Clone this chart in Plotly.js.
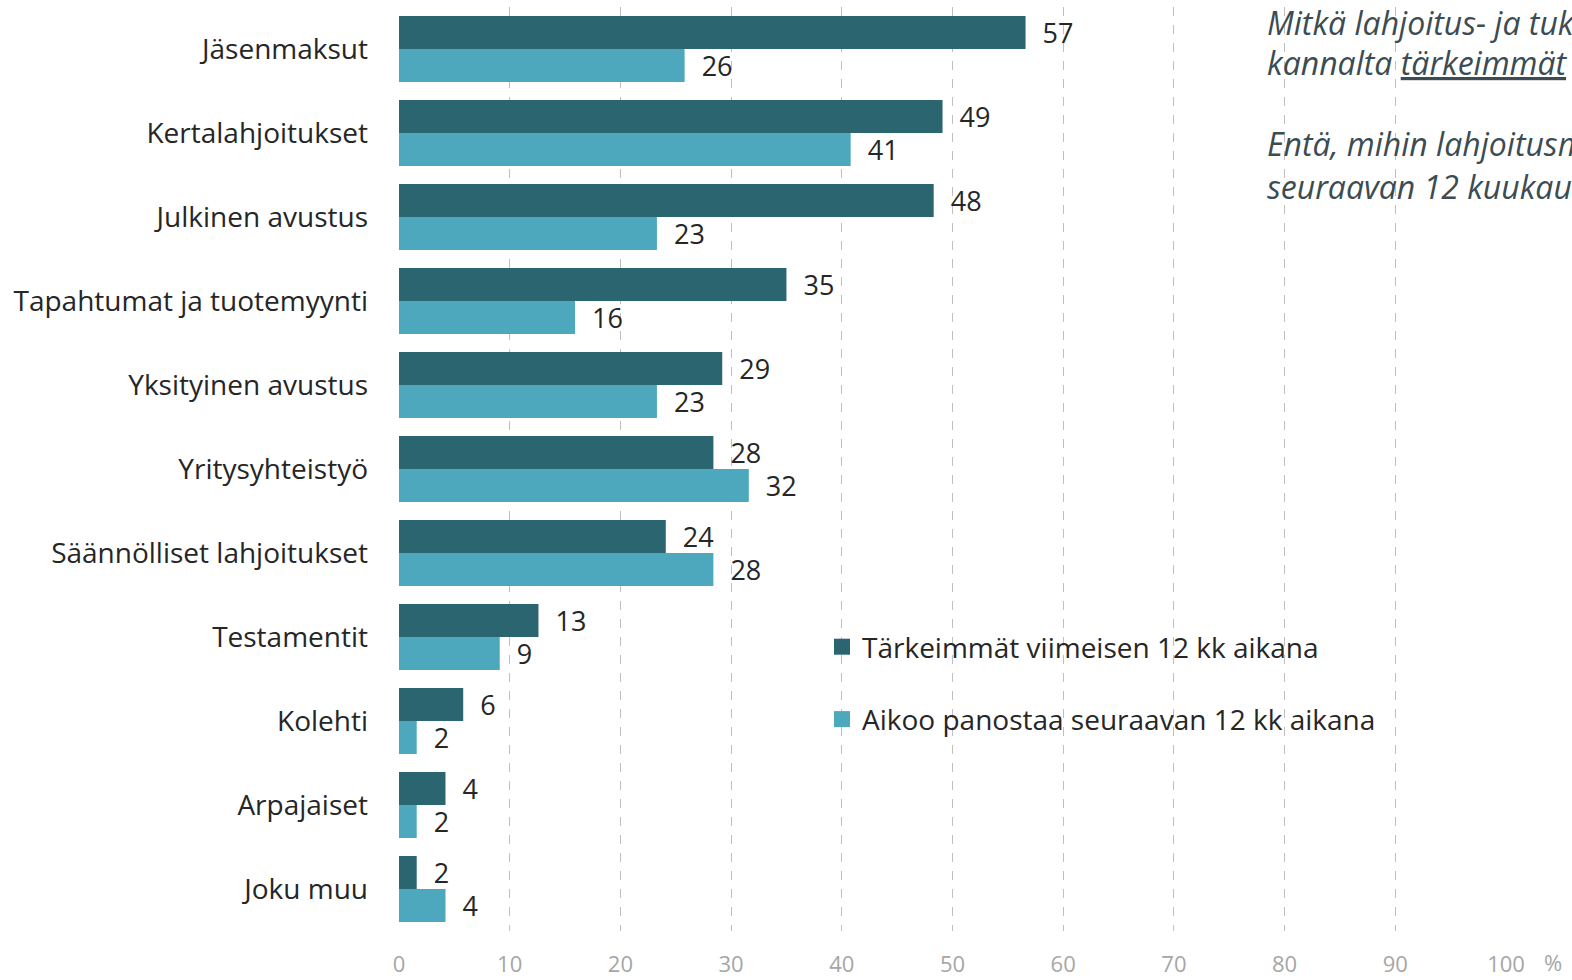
<!DOCTYPE html>
<html>
<head>
<meta charset="utf-8">
<script src="https://cdn.plot.ly/plotly-3.0.1.min.js"></script>
<style>html,body{margin:0;padding:0;background:#fff;}#chart{width:1572px;height:980px;}</style>
</head>
<body>
<div id="chart"></div>
<script>
var categories = ["Jäsenmaksut","Kertalahjoitukset","Julkinen avustus","Tapahtumat ja tuotemyynti","Yksityinen avustus","Yritysyhteistyö","Säännölliset lahjoitukset","Testamentit","Kolehti","Arpajaiset","Joku muu"];
var seriesNames = ["Tärkeimmät viimeisen 12 kk aikana","Aikoo panostaa seuraavan 12 kk aikana"];
var lastYear = [56.6, 49.1, 48.3, 35.0, 29.2, 28.4, 24.1, 12.6, 5.8, 4.2, 1.6];
var nextYear = [25.8, 40.8, 23.3, 15.9, 23.3, 31.6, 28.4, 9.1, 1.6, 1.6, 4.2];
var xTicks = [0,10,20,30,40,50,60,70,80,90,100];
var titleLines = ["Mitkä lahjoitus- ja tukimuodot ovat olleet organisaationne",
  "kannalta <u>tärkeimmät</u> viimeisen 12 kuukauden aikana?",
  "Entä, mihin lahjoitusmuotoihin aiotte panostaa",
  "seuraavan 12 kuukauden aikana?"];

var W = 1572, H = 980;
var mL = 399, mR = 66, mT = 7, mB = 49;
var pw = W - mL - mR, ph = H - mT - mB;
function px2x(p){ return (p - mL) / pw; }
function px2y(p){ return (H - mB - p) / ph; }

var FONT = "Open Sans, Liberation Sans, sans-serif";
var NB = "\u00a0\u00a0";
var DARK = '#2B6570', LIGHT = '#4DA8BD';

var traces = [
  {type:'bar', orientation:'h', name:seriesNames[0], y:categories, x:lastYear,
   marker:{color:DARK}, text:lastYear.map(function(v){return NB+Math.round(v);}),
   textposition:'outside', constraintext:'none', cliponaxis:false, showlegend:false,
   textfont:{family:FONT, size:27, color:'#262626'}, hoverinfo:'x+y'},
  {type:'bar', orientation:'h', name:seriesNames[1], y:categories, x:nextYear,
   marker:{color:LIGHT}, text:nextYear.map(function(v){return NB+Math.round(v);}),
   textposition:'outside', constraintext:'none', cliponaxis:false, showlegend:false,
   textfont:{family:FONT, size:27, color:'#262626'}, hoverinfo:'x+y'},
  {type:'scatter', mode:'markers', name:seriesNames[0], x:[null], y:[null],
   marker:{symbol:'square', size:18, color:DARK}, legendgroup:'a', showlegend:true},
  {type:'scatter', mode:'markers', name:seriesNames[1], x:[null], y:[null],
   marker:{symbol:'square', size:18, color:LIGHT}, legendgroup:'b', showlegend:true}
];

var titleY = [22, 63, 143, 186];
var annotations = titleLines.map(function(t,i){
  return {xref:'paper', yref:'paper', x:px2x(1265), y:px2y(titleY[i]), xanchor:'left', yanchor:'middle',
    text:'<i>'+t+'</i>', showarrow:false, align:'left',
    font:{family:FONT, size:32, color:'#3B4C52'}};
});
annotations.push({xref:'paper', yref:'paper', x:px2x(1553), y:px2y(962), xanchor:'center', yanchor:'middle',
  text:'%', showarrow:false, font:{family:FONT, size:22, color:'#A6A6A6'}});

var layout = {
  width:W, height:H,
  margin:{l:mL, r:mR, t:mT, b:mB, pad:0},
  paper_bgcolor:'#fff', plot_bgcolor:'#fff',
  barmode:'group', bargap:0.214, bargroupgap:0,
  showlegend:true,
  legend:{x:px2x(822), y:px2y(622), xanchor:'left', yanchor:'top', traceorder:'grouped',
    tracegroupgap:33, font:{family:FONT, size:28, color:'#262626'}, bgcolor:'rgba(0,0,0,0)'},
  xaxis:{range:[0,100], tickvals:xTicks, ticktext:xTicks.map(String), showgrid:true,
    gridcolor:'#BFBFBF', griddash:'dash', gridwidth:1, zeroline:false, showline:false,
    ticks:'', ticklabelstandoff:18,
    tickfont:{family:FONT, size:22, color:'#A6A6A6'}, fixedrange:true},
  yaxis:{type:'category', autorange:false, range:[10.5,-0.5], showgrid:false, zeroline:false,
    showline:false, ticks:'', ticklabelstandoff:30,
    tickfont:{family:FONT, size:28, color:'#262626'}, fixedrange:true},
  annotations:annotations
};

Plotly.newPlot('chart', traces, layout, {displayModeBar:false, staticPlot:true});
</script>
</body>
</html>
